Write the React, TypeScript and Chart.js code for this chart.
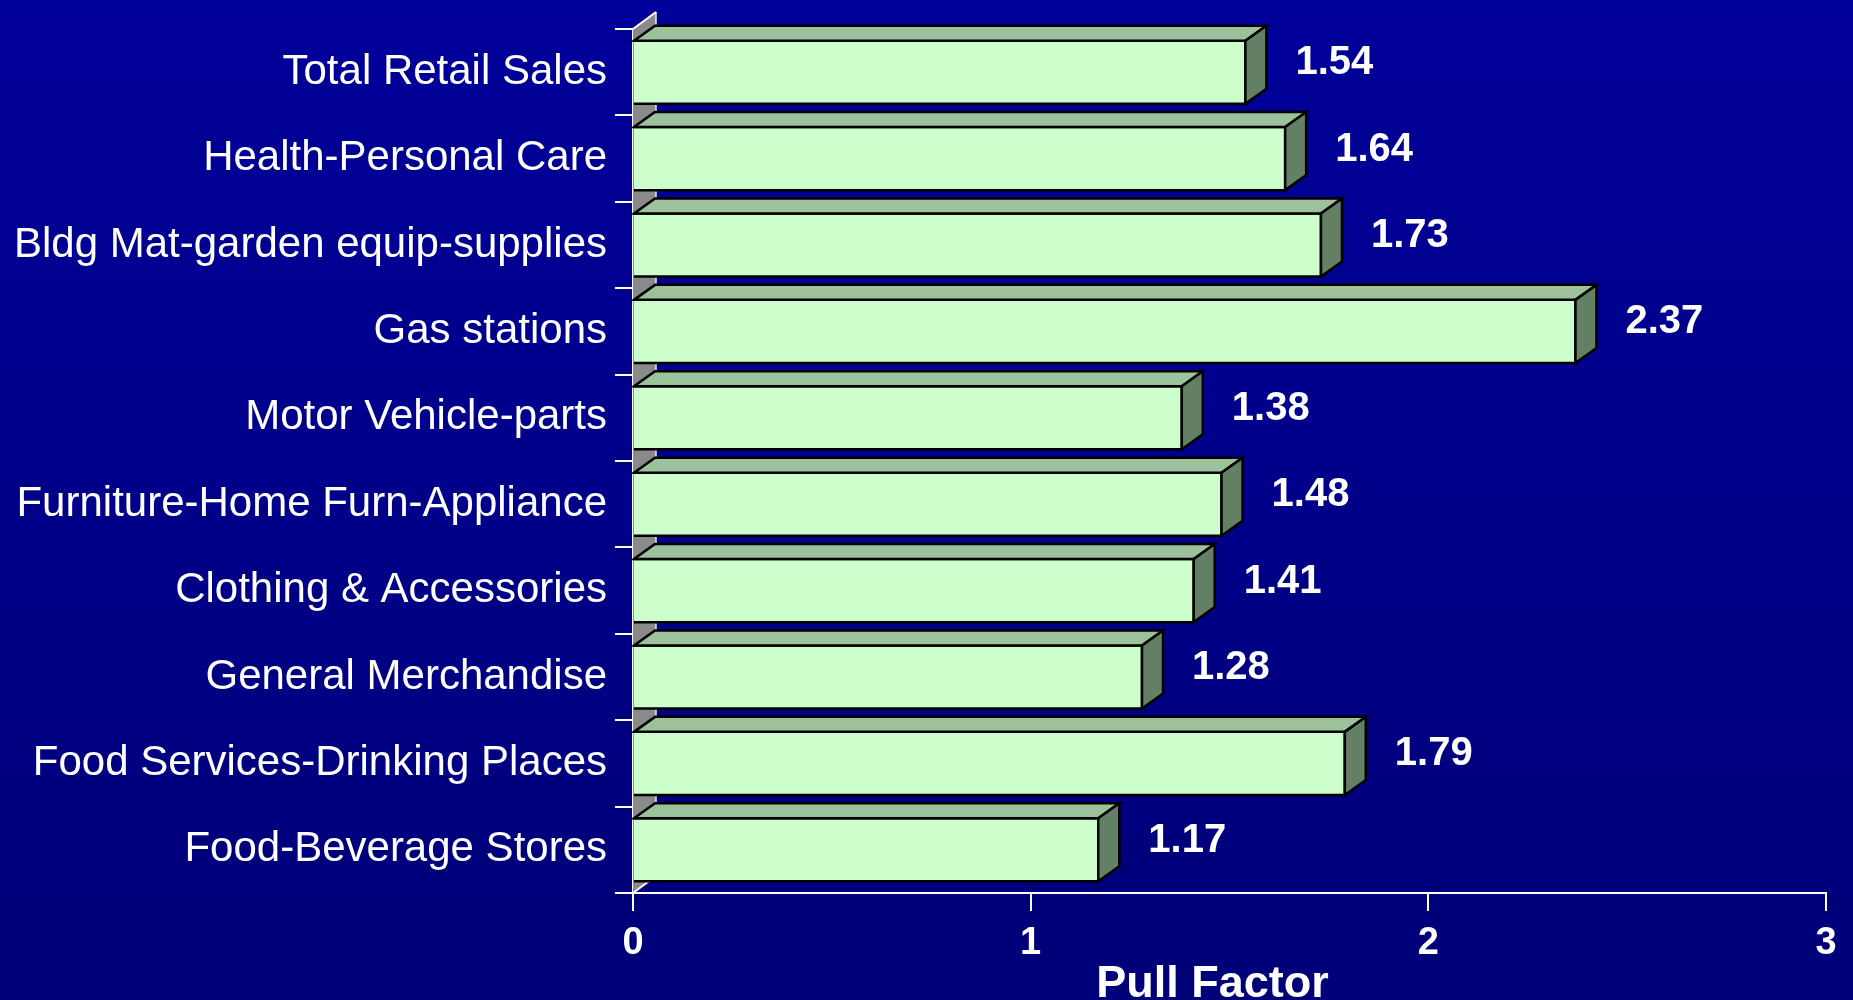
import { useEffect, useRef } from "react";
import { Chart, registerables } from "chart.js";

Chart.register(...registerables);

const categories = [
  "Total Retail Sales",
  "Health-Personal Care",
  "Bldg Mat-garden equip-supplies",
  "Gas stations",
  "Motor Vehicle-parts",
  "Furniture-Home Furn-Appliance",
  "Clothing & Accessories",
  "General Merchandise",
  "Food Services-Drinking Places",
  "Food-Beverage Stores",
];
const pullFactors = [1.54, 1.64, 1.73, 2.37, 1.38, 1.48, 1.41, 1.28, 1.79, 1.17];
const xMin = 0;
const xMax = 3;
const xStep = 1;
const axisTitle = "Pull Factor";

const DX = 21;
const DY = 15;
const WALL_DX = 23;
const WALL_DY = 17;
const FRONT = "#CCFFCC";
const TOP = "#9CC29C";
const SIDE = "#648064";
const SANS = "'Liberation Sans', Arial, sans-serif";

const bgPlugin = {
  id: "bg",
  beforeDraw(chart: any) {
    const { ctx, width, height } = chart;
    const g = ctx.createLinearGradient(0, 0, 0, height);
    g.addColorStop(0, "#00009A");
    g.addColorStop(1, "#000078");
    ctx.save();
    ctx.fillStyle = g;
    ctx.fillRect(0, 0, width, height);
    ctx.restore();
  },
};

const wallPlugin = {
  id: "wall",
  beforeDatasetsDraw(chart: any) {
    const { ctx } = chart;
    const { left, top, bottom } = chart.chartArea;
    ctx.save();
    ctx.fillStyle = "#8A8A8A";
    ctx.beginPath();
    ctx.moveTo(left, top);
    ctx.lineTo(left + WALL_DX, top - WALL_DY);
    ctx.lineTo(left + WALL_DX, bottom - WALL_DY);
    ctx.lineTo(left, bottom);
    ctx.closePath();
    ctx.fill();
    ctx.strokeStyle = "#E8E8E8";
    ctx.lineWidth = 1.5;
    ctx.beginPath();
    ctx.moveTo(left + WALL_DX, top - WALL_DY);
    ctx.lineTo(left + WALL_DX, bottom - WALL_DY);
    ctx.stroke();
    ctx.strokeStyle = "#FFFFFF";
    ctx.lineWidth = 2;
    ctx.beginPath();
    ctx.moveTo(left, top);
    ctx.lineTo(left + WALL_DX, top - WALL_DY);
    ctx.moveTo(left, bottom);
    ctx.lineTo(left + WALL_DX, bottom - WALL_DY);
    ctx.stroke();
    ctx.restore();
  },
};

const bars3dPlugin = {
  id: "bars3d",
  afterDatasetsDraw(chart: any) {
    const { ctx } = chart;
    const meta = chart.getDatasetMeta(0);
    ctx.save();
    ctx.lineWidth = 2.5;
    ctx.strokeStyle = "#000000";
    ctx.lineJoin = "miter";
    meta.data.forEach((el: any, i: number) => {
      const { x, y, base, height } = el.getProps(["x", "y", "base", "height"], true);
      const t = y - height / 2;
      const b = y + height / 2;
      // front face
      ctx.fillStyle = FRONT;
      ctx.fillRect(base, t, x - base, height);
      ctx.beginPath();
      ctx.moveTo(base, t);
      ctx.lineTo(x, t);
      ctx.lineTo(x, b);
      ctx.lineTo(base, b);
      ctx.stroke();
      // top face
      ctx.fillStyle = TOP;
      ctx.beginPath();
      ctx.moveTo(base, t);
      ctx.lineTo(base + DX, t - DY);
      ctx.lineTo(x + DX, t - DY);
      ctx.lineTo(x, t);
      ctx.closePath();
      ctx.fill();
      ctx.stroke();
      // side face
      ctx.fillStyle = SIDE;
      ctx.beginPath();
      ctx.moveTo(x, t);
      ctx.lineTo(x + DX, t - DY);
      ctx.lineTo(x + DX, b - DY);
      ctx.lineTo(x, b);
      ctx.closePath();
      ctx.fill();
      ctx.stroke();
      // value label
      ctx.fillStyle = "#FFFFFF";
      ctx.font = `bold 40px ${SANS}`;
      ctx.textAlign = "left";
      ctx.textBaseline = "middle";
      ctx.fillText(pullFactors[i].toFixed(2), x + 50, y - 9);
    });
    ctx.restore();
  },
  afterDraw(chart: any) {
    const { ctx } = chart;
    const xs = chart.scales.x;
    ctx.save();
    ctx.fillStyle = "#FFFFFF";
    ctx.font = `bold 45px ${SANS}`;
    ctx.textAlign = "center";
    ctx.textBaseline = "alphabetic";
    ctx.fillText(axisTitle, (xs.left + xs.right) / 2 - 17, xs.bottom - 3);
    ctx.restore();
  },
};

export default function App() {
  const ref = useRef<HTMLCanvasElement | null>(null);
  useEffect(() => {
    if (!ref.current) return;
    const chart = new Chart(ref.current, {
      type: "bar",
      data: {
        labels: categories,
        datasets: [
          {
            data: pullFactors,
            backgroundColor: "rgba(0,0,0,0)",
            borderWidth: 0,
            categoryPercentage: 1,
            barPercentage: 0.73,
          },
        ],
      },
      options: {
        indexAxis: "y",
        animation: false,
        responsive: false,
        devicePixelRatio: 1,
        layout: { padding: { top: 29, right: 27, left: 0, bottom: 0 } },
        plugins: {
          legend: { display: false },
          tooltip: { enabled: false },
        },
        scales: {
          x: {
            type: "linear",
            min: xMin,
            max: xMax,
            z: 1,
            ticks: {
              stepSize: xStep,
              color: "#FFFFFF",
              font: { family: SANS, size: 38, weight: "bold" },
              padding: 10,
              maxRotation: 0,
            },
            grid: {
              drawOnChartArea: false,
              drawTicks: true,
              tickLength: 18,
              color: "#FFFFFF",
              lineWidth: 2,
            },
            border: { display: true, color: "#FFFFFF", width: 2 },
            title: { display: false, text: axisTitle },
            afterFit(scale: any) {
              scale.height = 107;
            },
          },
          y: {
            type: "category",
            offset: true,
            z: 1,
            ticks: {
              color: "#FFFFFF",
              font: { family: SANS, size: 42, lineHeight: 1 },
              padding: 8,
              autoSkip: false,
            },
            grid: {
              offset: true,
              drawOnChartArea: false,
              drawTicks: true,
              tickLength: 18,
              color: "#FFFFFF",
              lineWidth: 2,
            },
            border: { display: true, color: "#FFFFFF", width: 2 },
            afterFit(scale: any) {
              scale.width = 633;
            },
          },
        },
      },
      plugins: [bgPlugin, wallPlugin, bars3dPlugin],
    });
    return () => chart.destroy();
  }, []);
  return (
    <div style={{ position: "absolute", left: 0, top: 0, width: 1853, height: 1000, overflow: "hidden" }}>
      <canvas ref={ref} width={1853} height={1000} style={{ display: "block" }} />
    </div>
  );
}
